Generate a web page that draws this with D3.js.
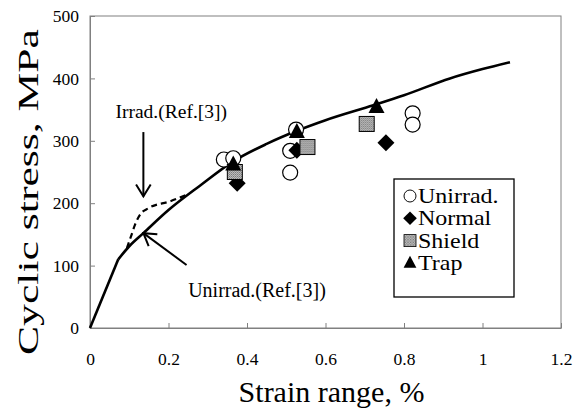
<!DOCTYPE html>
<html>
<head>
<meta charset="utf-8">
<script src="https://cdn.jsdelivr.net/npm/d3@7"></script>
<style>
  body { margin: 0; background: #fff; }
  text { font-family: 'Liberation Serif', 'Times New Roman', serif; fill: #000; }
</style>
</head>
<body>
<div id="chart"></div>
<script>
// reference curves (strain %, stress MPa)
const unirradCurve = [
  [0, 0], [0.072, 110], [0.1, 131], [0.136, 152], [0.2, 189], [0.28, 228],
  [0.365, 267], [0.45, 295], [0.527, 316], [0.6, 333], [0.722, 357],
  [0.8, 373], [0.917, 400], [1.0, 415], [1.07, 426],
];
const irradCurve = [
  [0.094, 128], [0.104, 146], [0.115, 166], [0.128, 182], [0.149, 192], [0.204, 203], [0.245, 213],
];

// test data
const unirrad = [[0.341, 270], [0.365, 272], [0.51, 284], [0.51, 249], [0.525, 318], [0.822, 344], [0.822, 326]];
const normal = [[0.375, 232], [0.527, 285], [0.754, 297]];
const shield = [[0.369, 250], [0.554, 290], [0.705, 327]];
const trap = [[0.365, 262], [0.527, 314], [0.73, 354]];

const xTicks = [0, 0.2, 0.4, 0.6, 0.8, 1, 1.2];
const xTickLabels = ['0', '0.2', '0.4', '0.6', '0.8', '1', '1.2'];
const yTicks = [0, 100, 200, 300, 400, 500];
const legendNames = ['Unirrad.', 'Normal', 'Shield', 'Trap'];

const W = 587, H = 410;
const margin = { top: 16, right: 26, bottom: 82, left: 90 };
const width = W - margin.left - margin.right;
const height = H - margin.top - margin.bottom;

const svg = d3.select('#chart').append('svg')
  .attr('width', W).attr('height', H);

const defs = svg.append('defs');
const pat = defs.append('pattern')
  .attr('id', 'dots').attr('width', 2).attr('height', 2)
  .attr('patternUnits', 'userSpaceOnUse');
pat.append('rect').attr('width', 2).attr('height', 2).attr('fill', '#c8c8c8');
pat.append('rect').attr('width', 1).attr('height', 1).attr('fill', '#6e6e6e');
pat.append('rect').attr('x', 1).attr('y', 1).attr('width', 1).attr('height', 1).attr('fill', '#8a8a8a');

const g = svg.append('g').attr('transform', `translate(${margin.left},${margin.top})`);

const x = d3.scaleLinear().domain([0, 1.2]).range([0, width]);
const y = d3.scaleLinear().domain([0, 500]).range([height, 0]);

// frame
g.append('rect').attr('width', width).attr('height', height)
  .attr('fill', 'none').attr('stroke', '#808080').attr('stroke-width', 1);

const xAxis = g.append('g').attr('transform', `translate(0,${height})`)
  .call(d3.axisBottom(x).tickValues(xTicks).tickFormat((d, i) => xTickLabels[i])
    .tickSizeInner(-5).tickSizeOuter(0).tickPadding(25));
const yAxis = g.append('g')
  .call(d3.axisLeft(y).tickValues(yTicks).tickSizeInner(-5).tickSizeOuter(0).tickPadding(11));
[xAxis, yAxis].forEach(a => {
  a.select('.domain').attr('stroke', '#808080');
  a.selectAll('.tick line').attr('stroke', '#808080');
  a.selectAll('text').style('font-size', '17.5px').style('font-family', "'Liberation Serif', serif");
});

svg.append('text')
  .attr('x', margin.left + width / 2 + 6).attr('y', 402)
  .attr('text-anchor', 'middle').style('font-size', '30px')
  .text('Strain range, %');

svg.append('text')
  .attr('transform', `translate(38,${192}) rotate(-90)`)
  .attr('text-anchor', 'middle').style('font-size', '29px')
  .attr('textLength', 326).attr('lengthAdjust', 'spacingAndGlyphs')
  .text('Cyclic stress, MPa');

const line = d3.line().x(d => x(d[0])).y(d => y(d[1]));

g.append('path').datum(irradCurve).attr('d', line.curve(d3.curveMonotoneX))
  .attr('fill', 'none').attr('stroke', '#000').attr('stroke-width', 2.2)
  .attr('stroke-dasharray', '6,4');
// straight elastic part up to the knee, smooth beyond it
g.append('path').datum(unirradCurve.slice(0, 2)).attr('d', line.curve(d3.curveLinear))
  .attr('fill', 'none').attr('stroke', '#000').attr('stroke-width', 2.6);
g.append('path').datum(unirradCurve.slice(1)).attr('d', line.curve(d3.curveMonotoneX))
  .attr('fill', 'none').attr('stroke', '#000').attr('stroke-width', 2.6);

// annotations
function arrow(x1, y1, x2, y2) {
  const px1 = x(x1), py1 = y(y1), px2 = x(x2), py2 = y(y2);
  const ang = Math.atan2(py2 - py1, px2 - px1);
  const L = 14, a = 0.55;
  g.append('line').attr('x1', px1).attr('y1', py1).attr('x2', px2).attr('y2', py2)
    .attr('stroke', '#000').attr('stroke-width', 2);
  g.append('path')
    .attr('d', `M${px2 - L * Math.cos(ang - a)},${py2 - L * Math.sin(ang - a)}L${px2},${py2}L${px2 - L * Math.cos(ang + a)},${py2 - L * Math.sin(ang + a)}`)
    .attr('fill', 'none').attr('stroke', '#000').attr('stroke-width', 2);
}
arrow(0.136, 314, 0.136, 211);
arrow(0.246, 101, 0.136, 152);

g.append('text').attr('x', x(0.207)).attr('y', y(337))
  .attr('text-anchor', 'middle').style('font-size', '19.5px').text('Irrad.(Ref.[3])');
g.append('text').attr('x', x(0.25)).attr('y', y(50))
  .style('font-size', '20px').text('Unirrad.(Ref.[3])');

// markers
const sym = {
  'Unirrad.': sel => sel.append('circle').attr('r', 7.5).attr('fill', '#fff').attr('stroke', '#000').attr('stroke-width', 1.2),
  'Normal': sel => sel.append('path').attr('d', 'M0,-8.5L8.5,0L0,8.5L-8.5,0Z').attr('fill', '#000'),
  'Shield': sel => sel.append('rect').attr('x', -7.5).attr('y', -7.5).attr('width', 15).attr('height', 15)
    .attr('fill', 'url(#dots)').attr('stroke', '#000').attr('stroke-width', 1),
  'Trap': sel => sel.append('path').attr('d', 'M0,-9L8,6L-8,6Z').attr('fill', '#000'),
};
[unirrad, normal, shield, trap].forEach((data, i) => {
  const name = legendNames[i];
  g.selectAll(null).data(data).enter().append('g')
    .attr('transform', d => `translate(${x(d[0])},${y(d[1])})`)
    .each(function () { sym[name](d3.select(this)); });
});

// legend
const lg = svg.append('g').attr('transform', 'translate(394,179)');
lg.append('rect').attr('width', 120).attr('height', 118)
  .attr('fill', '#fff').attr('stroke', '#000').attr('stroke-width', 1.3);
legendNames.forEach((name, i) => {
  const row = lg.append('g').attr('transform', `translate(0,${17 + i * 22.3})`);
  const s = row.append('g').attr('transform', 'translate(16,0) scale(0.8)');
  sym[name](s);
  row.append('text').attr('transform', 'translate(24,7) scale(1.2,1)')
    .style('font-size', '20px').text(name);
});
</script>
</body>
</html>
